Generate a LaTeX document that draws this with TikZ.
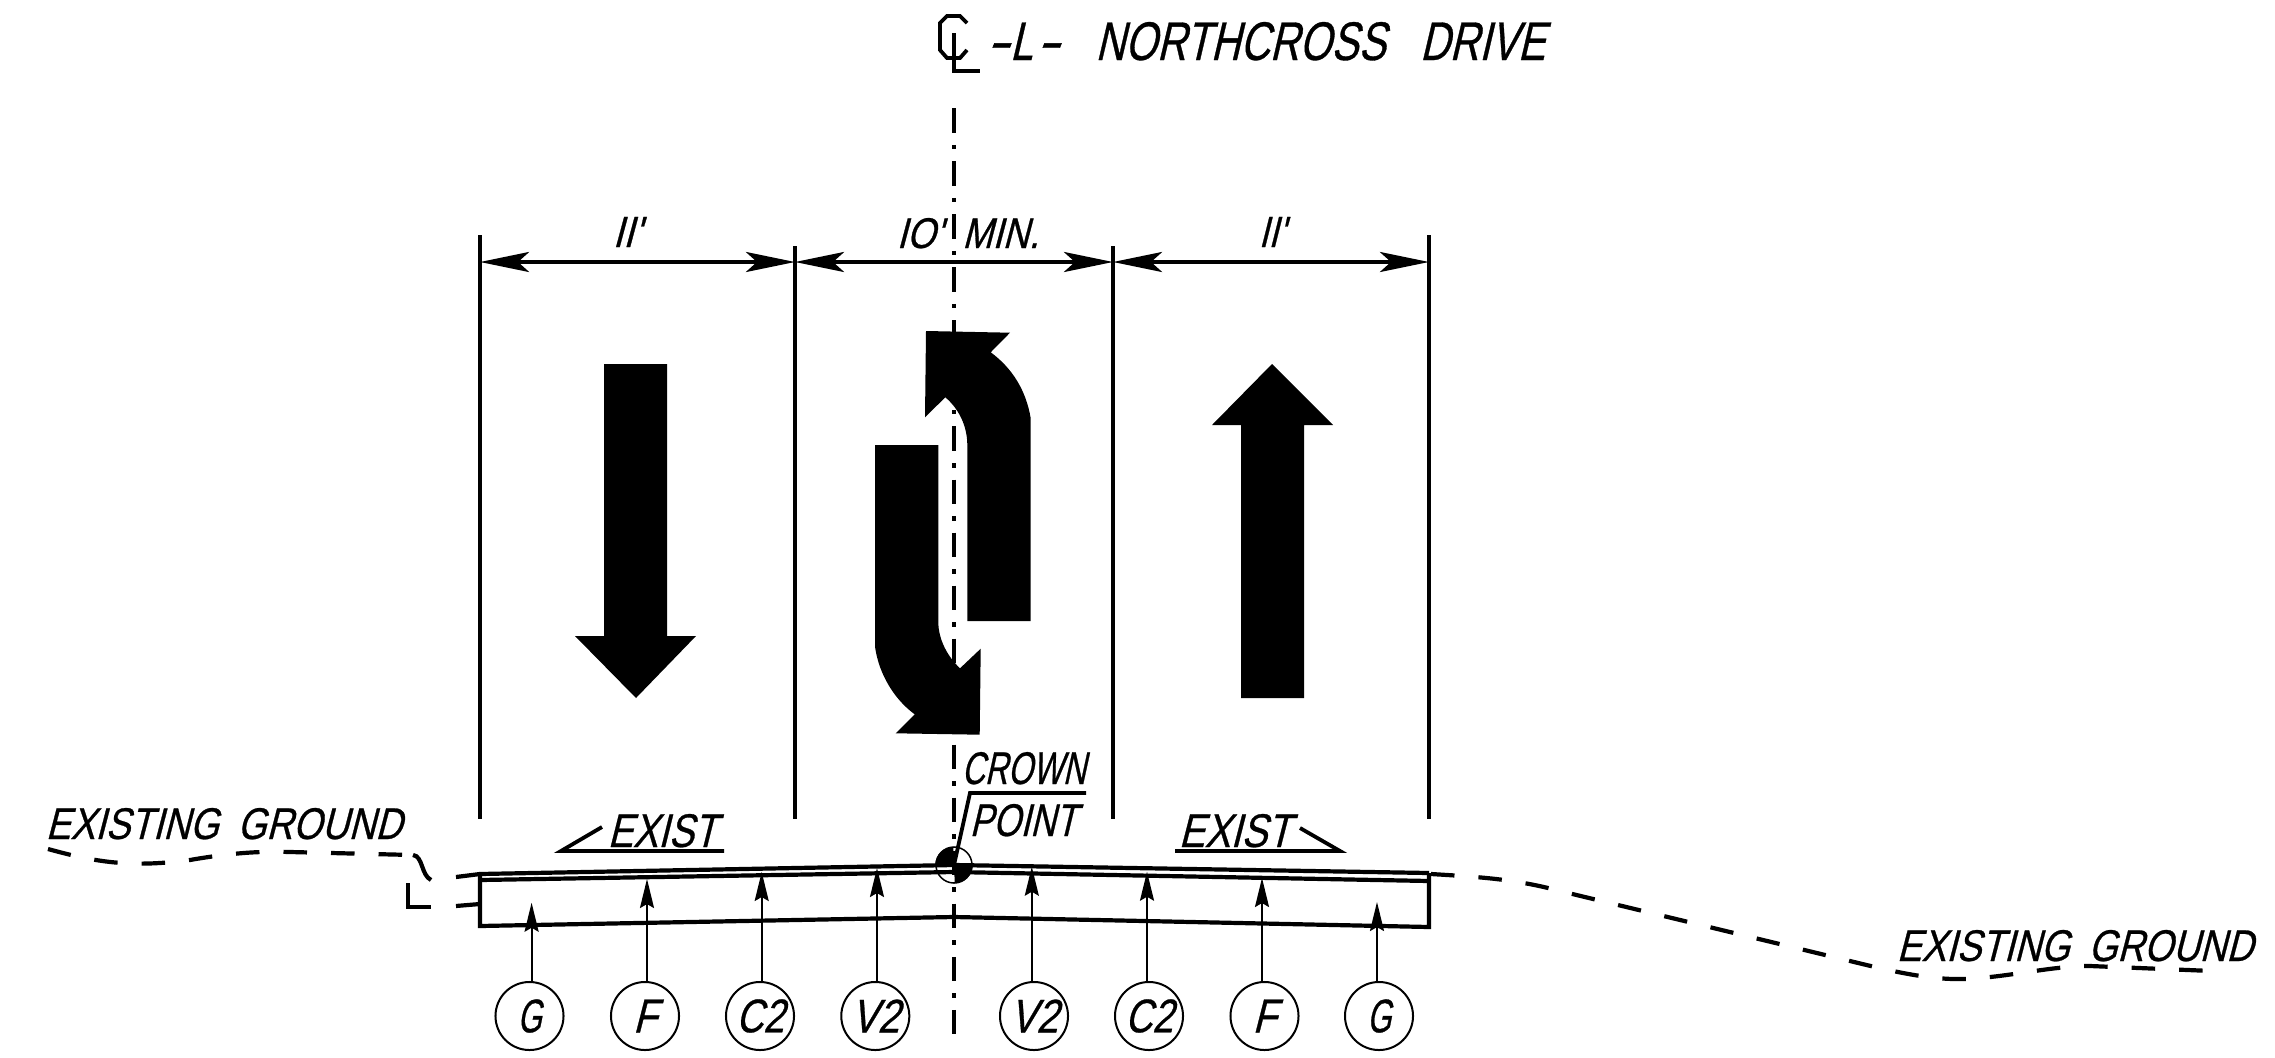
\documentclass[tikz,border=0pt]{standalone}
\usepackage{tikz}
\usepackage{fontspec}
\usetikzlibrary{arrows.meta}
\newfontfamily\cadfont{Liberation Sans}[FakeSlant=0.25,FakeStretch=0.8,FakeBold=0.6]
\def\cad#1#2#3{\resizebox{#1}{#2}{\fontsize{14pt}{14pt}\cadfont #3}}
\tikzset{
	heavy/.style={line width=0.038cm},
	road/.style={line width=0.042cm,line join=miter},
	ground/.style={line width=0.042cm,dash pattern=on 0.235cm off 0.24cm},
	centerline/.style={line width=0.042cm,dash pattern=on 0.245cm off 0.12cm on 0.045cm off 0.12cm},
	dimline/.style={heavy,{Stealth[length=0.49cm,width=0.2cm,inset=0.11cm]}-{Stealth[length=0.49cm,width=0.2cm,inset=0.11cm]}},
	leader/.style={line width=0.02cm,-{Stealth[length=0.29cm,width=0.14cm,inset=0.04cm]}},
	tag/.style={circle,draw,line width=0.02cm,minimum size=0.68cm,inner sep=0},
	cadtext/.style={anchor=base west,inner sep=0}
}

\begin{document}
\begin{tikzpicture}[x=0.01cm,y=-0.01cm]
	%%%%% START %%%%%
	\useasboundingbox (0,0) rectangle (2275,1057);
	\def\ytop{235}
	\def\ymid{246}
	\def\ylow{819}
	\def\ydim{262}
	\def\xa{480}
	\def\xb{795}
	\def\xc{1113}
	\def\xd{1429}
	\def\xcl{954}

	\draw[centerline] (\xcl,108.3) -- (\xcl,1040);

	\draw[heavy] (967,23) -- (960,16) -- (947,16) -- (940,23) -- (940,50) -- (947,58) -- (960,58) -- (967,50);
	\draw[heavy] (\xcl,33) -- (\xcl,71) -- (980,71);
	\node[cadtext] (title) at (984,60) {\cad{5.6cm}{0.38cm}{\scalebox{1.7}[1]{-}\hspace{0.02cm}L\hspace{0.02cm}\scalebox{1.7}[1]{-}\hspace{0.36cm}NORTHCROSS\hspace{0.33cm}DRIVE}};

	\draw[heavy] (\xa,\ytop) -- (\xa,\ylow);
	\draw[heavy] (\xb,\ymid) -- (\xb,\ylow);
	\draw[heavy] (\xc,\ymid) -- (\xc,\ylow);
	\draw[heavy] (\xd,\ytop) -- (\xd,\ylow);
	\coordinate (dima) at (\xa,\ydim);
	\coordinate (dimb) at (\xb,\ydim);
	\coordinate (dimc) at (\xc,\ydim);
	\coordinate (dimd) at (\xd,\ydim);
	\draw[dimline] (dima) -- (dimb);
	\draw[dimline] (dimb) -- (dimc);
	\draw[dimline] (dimc) -- (dimd);
	\node[cadtext] (widthleft) at (612,247) {\cad{0.28cm}{0.3cm}{II'}};
	\node[cadtext] (widthmid) at (896,248) {\cad{1.42cm}{0.3cm}{IO'\hspace{0.22cm}MIN.}};
	\node[cadtext] (widthright) at (1258,247) {\cad{0.26cm}{0.3cm}{II'}};

	\fill (604,364) -- (667,364) -- (667,636) -- (696,636) -- (636,698) -- (575,636) -- (604,636) -- cycle;
	\fill (1272,364) -- (1333,425) -- (1304,425) -- (1304,698) -- (1241,698) -- (1241,425) -- (1212,425) -- cycle;
	\fill (1030.7,621) -- (967.3,621) -- (967.3,445) .. controls (967.3,425) and (958,408) .. (945.3,397.3)
		-- (925,417.3) -- (926,331) -- (1010,332.7) -- (990.7,352.3) .. controls (1012,368) and (1026,390) .. (1030.7,418.3) -- cycle;
	\fill (875,445) -- (938.3,445) -- (938.3,621.7) .. controls (938.3,640) and (948,657) .. (960,668.3)
		-- (980.7,648.7) -- (979.7,734.7) -- (895.7,733.3) -- (914.7,714.3) .. controls (895,700) and (879,675) .. (875,646.7) -- cycle;

	\draw[road] (\xa,874) -- (\xcl,865) -- (\xd,873);
	\draw[road] (\xa,880) -- (\xcl,872) -- (\xd,881);
	\draw[road] (\xa,874) -- (\xa,926) -- (\xcl,917) -- (\xd,927) -- (\xd,873);

	\node[circle,draw,line width=0.015cm,minimum size=0.36cm,inner sep=0] (crown) at (\xcl,865) {};
	\fill (crown.center) -- (crown.west) arc[start angle=180,end angle=270,radius=18] -- cycle;
	\fill (crown.center) -- (crown.east) arc[start angle=0,end angle=90,radius=18] -- cycle;
	\node[cadtext] (crownup) at (961,784) {\cad{1.24cm}{0.32cm}{CROWN}};
	\node[cadtext] (crownlow) at (969,836) {\cad{1.07cm}{0.32cm}{POINT}};
	\draw[heavy] (crown.center) -- (970,793) -- (1086,793);

	\node[cadtext] (existleft) at (607,847) {\cad{1.09cm}{0.33cm}{EXIST}};
	\draw[heavy] (602,827) -- (561,851) -- (724,851);
	\node[cadtext] (existright) at (1178,847) {\cad{1.12cm}{0.33cm}{EXIST}};
	\draw[heavy] (1300,828) -- (1340,851) -- (1175,851);

	\node[cadtext] (groundleft) at (45,839) {\cad{3.56cm}{0.31cm}{EXISTING\hspace{0.2cm}GROUND}};
	\draw[ground] (48,849) .. controls (95,862) and (130,868) .. (190,860) .. controls (230,853) and (260,851) .. (290,852) -- (413,855);
	\draw[road] (413,855) .. controls (423,856) and (421,875) .. (431,880);
	\draw[road] (456,877) -- (\xa,874);
	\draw[road] (408,883) -- (408,907) -- (431,907);
	\draw[road] (456,906) -- (\xa,904);

	\node[cadtext] (groundright) at (1896,961) {\cad{3.56cm}{0.31cm}{EXISTING\hspace{0.2cm}GROUND}};
	\draw[ground] (1431,874) .. controls (1480,877) and (1515,879) .. (1560,891) -- (1850,961)
		.. controls (1895,972) and (1930,980) .. (1965,979) .. controls (2010,977) and (2050,966) .. (2090,966) -- (2212,971);

	\node[tag] (gleft) at (529.5,1016) {\cad{0.24cm}{0.33cm}{G}};
	\node[tag] (fleft) at (645,1016) {\cad{0.24cm}{0.33cm}{F}};
	\node[tag] (cleft) at (760,1016) {\cad{0.48cm}{0.33cm}{C2}};
	\node[tag] (vleft) at (875.3,1016) {\cad{0.48cm}{0.33cm}{V2}};
	\node[tag] (vright) at (1034,1016) {\cad{0.48cm}{0.33cm}{V2}};
	\node[tag] (cright) at (1149,1016) {\cad{0.48cm}{0.33cm}{C2}};
	\node[tag] (fright) at (1264.5,1016) {\cad{0.24cm}{0.33cm}{F}};
	\node[tag] (gright) at (1379,1016) {\cad{0.24cm}{0.33cm}{G}};

	\coordinate (gleftup) at (531.6,902.7);
	\coordinate (fleftup) at (647,879);
	\coordinate (cleftup) at (761.7,872);
	\coordinate (vleftup) at (877,868);
	\coordinate (vrightup) at (1031.8,866.7);
	\coordinate (crightup) at (1147,871.7);
	\coordinate (frightup) at (1262,878);
	\coordinate (grightup) at (1377,902);
	\draw[leader] (gleftup |- gleft.north) -- (gleftup);
	\draw[leader] (fleftup |- fleft.north) -- (fleftup);
	\draw[leader] (cleftup |- cleft.north) -- (cleftup);
	\draw[leader] (vleftup |- vleft.north) -- (vleftup);
	\draw[leader] (vrightup |- vright.north) -- (vrightup);
	\draw[leader] (crightup |- cright.north) -- (crightup);
	\draw[leader] (frightup |- fright.north) -- (frightup);
	\draw[leader] (grightup |- gright.north) -- (grightup);
	%%%%% END %%%%%
\end{tikzpicture}
\end{document}
